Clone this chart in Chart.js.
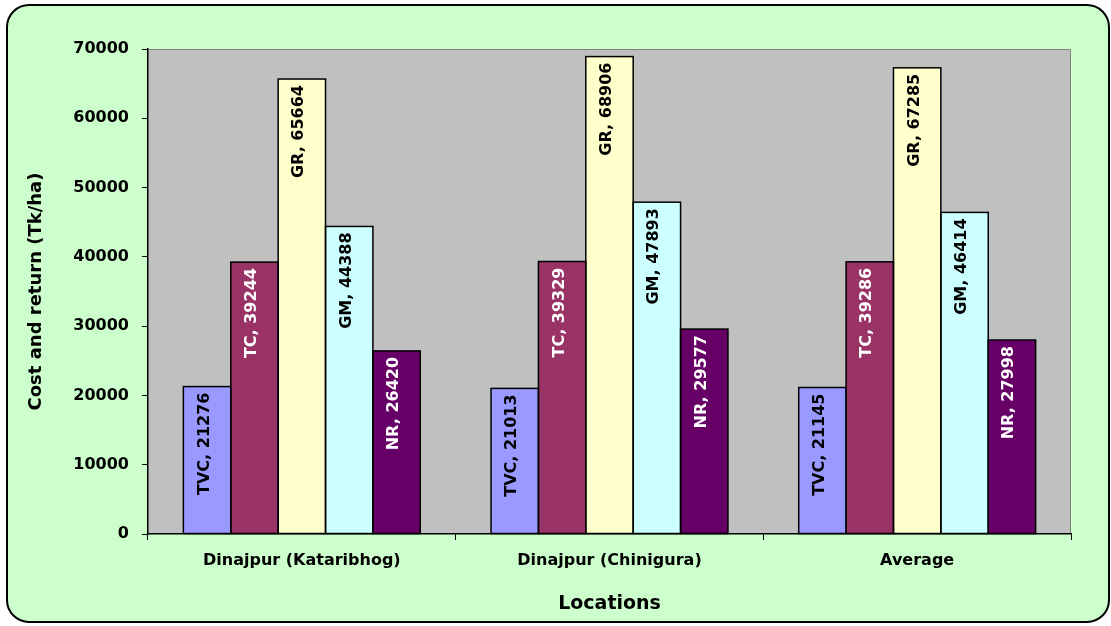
<!DOCTYPE html>
<html>
<head>
<meta charset="utf-8">
<script src="https://cdn.jsdelivr.net/npm/chart.js@4.4.0/dist/chart.umd.min.js"></script>
<style>
  html, body { margin: 0; padding: 0; background: #fff; }
  #wrap { width: 1111px; height: 626px; }
</style>
</head>
<body>
<div id="wrap"><canvas id="costChart"></canvas></div>
<script>
var locations = ["Dinajpur (Kataribhog)", "Dinajpur (Chinigura)", "Average"];
var seriesNames = ["TVC", "TC", "GR", "GM", "NR"];
var tvc = [21276, 21013, 21145];
var tc  = [39244, 39329, 39286];
var gr  = [65664, 68906, 67285];
var gm  = [44388, 47893, 46414];
var nr  = [26420, 29577, 27998];
var yTicks = [0, 10000, 20000, 30000, 40000, 50000, 60000, 70000];

var fills = ['#9999ff', '#993366', '#ffffcc', '#ccffff', '#660066'];
var labelColors = ['#000', '#fff', '#000', '#000', '#fff'];

Chart.defaults.font.family = '"DejaVu Sans", sans-serif';
Chart.defaults.font.weight = 'bold';
Chart.defaults.color = '#000';

// green rounded frame + grey plot area
var backdrop = {
  id: 'backdrop',
  beforeDraw: function (chart) {
    var c = chart.ctx, a = chart.chartArea;
    c.save();
    c.fillStyle = '#fff';
    c.fillRect(0, 0, chart.width, chart.height);
    c.beginPath();
    c.roundRect(7, 5, 1102, 617, 22);
    c.fillStyle = '#ccffcc';
    c.fill();
    c.lineWidth = 2;
    c.strokeStyle = '#000';
    c.stroke();
    c.fillStyle = '#c0c0c0';
    c.fillRect(a.left, a.top, a.right - a.left, a.bottom - a.top);
    c.beginPath();
    c.moveTo(a.left, a.top + 0.5);
    c.lineTo(a.right - 0.5, a.top + 0.5);
    c.lineTo(a.right - 0.5, a.bottom);
    c.lineWidth = 1;
    c.strokeStyle = '#808080';
    c.stroke();
    c.restore();
  }
};

// outlines centred on the bar edges (neighbours share one line) + vertical labels
var barLabels = {
  id: 'barLabels',
  afterDatasetsDraw: function (chart) {
    var c = chart.ctx;
    c.save();
    c.lineWidth = 1.5;
    c.strokeStyle = '#000';
    chart.data.datasets.forEach(function (ds, i) {
      chart.getDatasetMeta(i).data.forEach(function (bar) {
        c.strokeRect(bar.x - bar.width / 2, bar.y, bar.width, bar.base - bar.y);
      });
    });
    c.font = 'bold 16px "DejaVu Sans"';
    c.textAlign = 'right';
    c.textBaseline = 'alphabetic';
    chart.data.datasets.forEach(function (ds, i) {
      chart.getDatasetMeta(i).data.forEach(function (bar, j) {
        c.save();
        c.translate(bar.x, bar.y + 6);
        c.rotate(-Math.PI / 2);
        c.fillStyle = labelColors[i];
        c.fillText(ds.label + ', ' + ds.data[j], 0, 1.5);
        c.restore();
      });
    });
    c.restore();
  }
};

var series = [tvc, tc, gr, gm, nr];
var ctx = document.getElementById('costChart').getContext('2d');
var costChart = new Chart(ctx, {
  type: 'bar',
  data: {
    labels: locations,
    datasets: series.map(function (d, i) {
      return {
        label: seriesNames[i],
        data: d,
        backgroundColor: fills[i],
        borderWidth: 0,
        categoryPercentage: 0.77,
        barPercentage: 1.0
      };
    })
  },
  options: {
    responsive: true,
    maintainAspectRatio: false,
    animation: false,
    layout: { padding: { top: 49, right: 40, left: 0, bottom: 0 } },
    plugins: {
      legend: { display: false },
      tooltip: { enabled: false }
    },
    scales: {
      x: {
        grid: { drawOnChartArea: false, drawTicks: true, tickLength: 6, color: '#000' },
        border: { color: '#000', width: 1.5 },
        ticks: { padding: 11, font: { size: 16 }, maxRotation: 0 },
        title: { display: true, text: 'Locations', font: { size: 19 }, padding: { top: 0, bottom: 11 } },
        afterFit: function (s) { s.height = 92; }
      },
      y: {
        min: 0,
        max: 70000,
        afterBuildTicks: function (s) { s.ticks = yTicks.map(function (v) { return { value: v }; }); },
        grid: { drawOnChartArea: false, drawTicks: true, tickLength: 6, color: '#000' },
        border: { color: '#000', width: 1.5 },
        ticks: { padding: 13, font: { size: 16 }, callback: function (v) { return String(v); } },
        title: { display: true, text: 'Cost and return (Tk/ha)', font: { size: 18 }, padding: { top: 26, bottom: 0 } },
        afterFit: function (s) { s.width = 148; }
      }
    }
  },
  plugins: [backdrop, barLabels]
});
</script>
</body>
</html>
